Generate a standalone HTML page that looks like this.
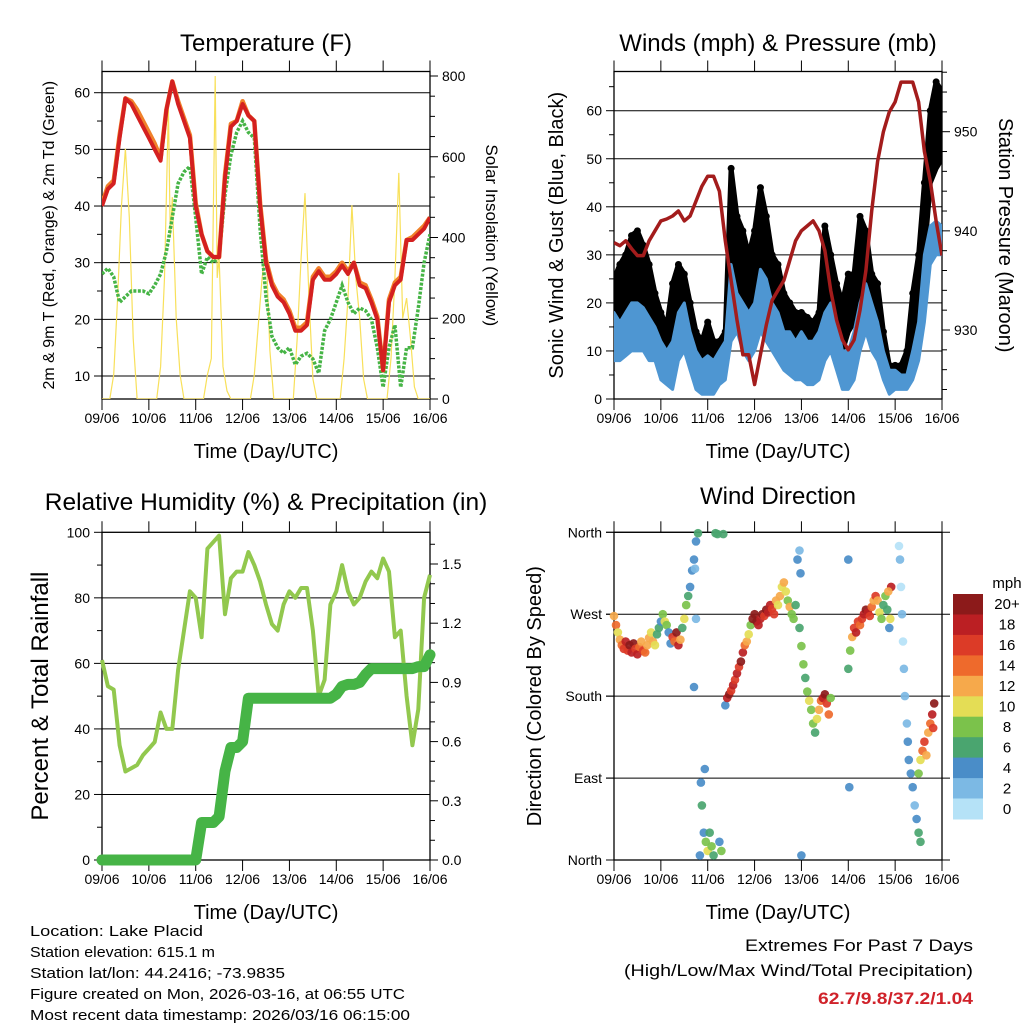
<!DOCTYPE html>
<html><head><meta charset="utf-8"><style>
html,body{margin:0;padding:0;background:#fff;}
svg{display:block;font-family:"Liberation Sans",sans-serif;}
</style></head><body>
<svg id="fig" width="1024" height="1024" viewBox="0 0 1024 1024" xmlns="http://www.w3.org/2000/svg">
<g id="g-temp"></g>
<g id="g-wind"></g>
<g id="g-rh"></g>
<g id="g-dir"></g>
<g font-size="15" fill="#000">
<text x="30" y="936" textLength="173" lengthAdjust="spacingAndGlyphs">Location: Lake Placid</text>
<text x="30" y="957" textLength="185" lengthAdjust="spacingAndGlyphs">Station elevation: 615.1 m</text>
<text x="30" y="978" textLength="255" lengthAdjust="spacingAndGlyphs">Station lat/lon: 44.2416; -73.9835</text>
<text x="30" y="999" textLength="375" lengthAdjust="spacingAndGlyphs">Figure created on Mon, 2026-03-16, at 06:55 UTC</text>
<text x="30" y="1020" textLength="380" lengthAdjust="spacingAndGlyphs">Most recent data timestamp: 2026/03/16 06:15:00</text>
</g>
<g font-size="17" text-anchor="end">
<text x="973" y="951" textLength="228" lengthAdjust="spacingAndGlyphs">Extremes For Past 7 Days</text>
<text x="973" y="976" textLength="349" lengthAdjust="spacingAndGlyphs">(High/Low/Max Wind/Total Precipitation)</text>
<text x="973" y="1004" fill="#d0222a" font-weight="bold" textLength="155" lengthAdjust="spacingAndGlyphs">62.7/9.8/37.2/1.04</text>
</g>
</svg>
<script>
// ---------- data ----------
const dayLabels = ["09/06","10/06","11/06","12/06","13/06","14/06","15/06","16/06"];
const hours3 = [0,3,6,9,12,15,18,21,24,27,30,33,36,39,42,45,48,51,54,57,60,63,66,69,72,75,78,81,84,87,90,93,96,99,102,105,108,111,114,117,120,123,126,129,132,135,138,141,144,147,150,153,156,159,162,165,168];
const temp2m = [40,43,44,52,59,58,56,54,52,50,48,57,62,58,55,52,40,35,32,31,31,45,54,55,58,56,55,40,30,26,24,23,21,18,18,19,27,28.5,27,27,28,29.5,28,30,26,25.5,23,20,11,23,26,27,34,34,35,36,38];
const temp9m = [40.5,43.5,44.5,52.5,59,58.5,57,55,53,51,48.5,57,62,58.5,55.5,52.5,40.5,35,32,31,31,45.5,54.5,55,58.5,56,55,40.5,30.5,26.5,24.5,23.5,21.5,18.5,18.5,19.5,27.5,29,27.5,27.5,28.5,30,28.5,30,26.5,26,23.5,20.5,11,23.5,26.5,27.5,34,34.5,35.5,36.5,38];
const dewpt = [28,29,27.5,23,24,25,25,25,24.5,26,28,32,38,44,46,47,38,28,31,30,31,42,49,53,55,53,52,36,24,17,15,14,15,12,13.5,14,13,10.5,18,20,23,26,23,21,22,21.5,20,15,8,15,19,8,15,15,22,30,35];
const solarHours = [0,4,6,8,10,12,14,16,18,28,30,32,34,35,36,38,40,42,52,54,56,58,59,60,62,64,66,76,78,80,82,84,86,88,98,100,102,104,106,108,110,122,124,126,128,130,132,134,136,146,148,150,152,154,156,158,160,162,168];
const solarVals = [0,0,60,250,480,620,450,150,0,0,80,300,720,400,500,200,60,0,0,60,100,800,300,350,80,20,0,0,60,180,300,380,120,0,0,150,350,510,250,50,0,0,100,250,480,300,200,50,0,0,100,300,560,200,250,150,30,0,0];
const pressure = [938.8,938.5,939,938.2,937.5,937.5,939,940,941,941.2,941.5,942,941,941.5,943,944.5,945.5,945.5,944,939,935,931,927.5,927.5,924.5,927.5,930.5,933,934,935,937,939,940,940.5,941,940,938,934,931,929,928,929,932,936,942,947,950,952,953,955,955,955,953,948,945,941,937.5];
const windLo = [8,8,9,10,10,10,8,8,4,3,2,8,10,6,2,1,1,1,3,4,12,14,10,8,10,14,12,10,8,6,5,4,4,3,3,4,8,10,6,2,2,4,10,14,10,8,4,1,2,2,2,4,8,16,28,30,30];
const windHi = [18,16,18,20,20,19,17,15,12,10,12,18,20,14,10,8,9,8,10,12,28,22,20,18,20,27,25,20,18,14,14,12,14,12,12,14,18,20,16,10,10,14,20,24,20,16,10,6,6,5,5,10,16,30,36,37,36];
const gustLo = [15,15,18,20,20,18,15,12,8,7,12,16,15,10,6,5,6,5,6,8,25,20,18,14,18,24,20,18,14,10,10,8,10,8,8,10,16,15,12,10,14,16,16,20,15,12,8,4,4,4,5,12,20,30,45,48,50];
const gustHi = [25,28,30,34,35,32,28,22,18,15,24,28,26,20,14,12,16,12,12,14,48,38,35,30,35,44,38,30,28,22,20,18,18,17,16,18,36,30,24,20,26,26,38,35,26,24,14,7,7,7,10,22,30,45,60,66,64];
const rhVals = [61,53,52,35,27,28,29,32,34,36,45,40,40,58,70,82,80,68,95,97,99,75,86,88,88,94,90,85,78,72,70,78,82,80,83,83,70,50,55,78,82,90,82,78,80,85,88,86,92,88,68,70,50,35,46,80,87];
const precipVals = [0,0,0,0,0,0,0,0,0,0,0,0,0,0,0,0,0,0.19,0.19,0.19,0.22,0.45,0.57,0.57,0.6,0.82,0.82,0.82,0.82,0.82,0.82,0.82,0.82,0.82,0.82,0.82,0.82,0.82,0.82,0.82,0.84,0.88,0.89,0.89,0.9,0.94,0.97,0.97,0.97,0.97,0.97,0.97,0.97,0.97,0.98,0.98,1.04];
const dirHours = [0,1,2,3,4,5,6,7,8,9,10,11,12,13,14,15,16,17,18,19,20,21,22,23,24,25,26,27,28,29,30,31,32,33,34,35,36,37,38,39,40,41,42,43,44,44.5,45,46,46.5,47,48,49,50,51,52,53,54,55,56,41,41.5,42,57,58,59,60,61,62,63,64,65,66,67,68,69,70,71,72,73,74,75,76,77,78,79,80,81,82,83,84,85,86,87,88,89,90,91,92,93,95,96,97,98,99,100,101,102,103,104,105,106,107,108,109,110,111,94,95,95.5,96,120,121,122,123,124,125,126,127,128,129,130,131,132,133,134,135,136,137,138,139,140,141,142,140.5,141.5,146,146.5,147,147.5,148,148.5,149,150,150.5,151,152,153,154,155,156,157,120.5,120,156,157,158,159,160,161,162,163,164,163.5];
const dirDeg = [268,258,250,242,236,232,240,230,236,228,238,232,226,234,240,230,228,236,244,250,240,236,248,255,262,270,262,258,250,238,245,240,250,236,242,255,265,280,290,300,318,330,350,359,5,85,60,30,100,20,10,30,15,5,359,358,20,10,358,190,320,265,170,178,182,186,192,198,205,212,218,228,236,240,248,258,265,270,262,258,265,270,268,275,272,280,276,270,285,280,290,300,305,295,285,278,270,265,280,255,235,215,200,185,175,165,150,140,155,165,175,178,182,172,160,178,330,340,315,5,210,230,245,255,250,262,258,265,270,275,272,268,278,285,290,285,272,265,280,290,275,255,300,295,265,345,330,300,270,240,210,180,150,130,110,95,80,60,45,30,20,80,330,95,110,120,130,115,140,150,160,172,145];
const dirSpd = [12,14,10,12,14,16,18,16,20,18,20,16,18,14,12,16,14,12,12,10,12,10,6,6,4,8,10,8,4,4,16,14,20,18,12,6,10,8,6,4,4,4,4,6,4,4,6,4,4,8,10,6,8,6,6,6,4,8,6,4,2,2,4,18,20,16,18,16,18,16,20,18,14,12,10,8,20,20,20,18,18,20,16,20,18,18,16,16,12,10,12,10,12,10,8,12,8,8,6,6,8,8,6,8,10,8,8,6,10,12,14,18,20,16,14,8,4,2,4,4,6,8,12,16,18,16,14,16,18,20,18,16,14,12,16,12,10,8,6,8,6,4,18,12,10,0,2,0,2,0,2,2,2,4,4,4,4,2,4,6,6,4,4,8,10,14,16,12,12,14,18,20,16];
const speedBinLabels = ["0","2","4","6","8","10","12","14","16","18","20+"];
const binColors = ["#b5e2f7","#7cb9e4","#4a8dc8","#4aa56f","#7bc24b","#e4dd55","#f6a94b","#ee6a2c","#dc3b27","#bb1f23","#8c1a1a"];

// ---------- helpers ----------
const NS="http://www.w3.org/2000/svg";
function el(parent,tag,attrs,text){const e=document.createElementNS(NS,tag);for(const k in attrs)e.setAttribute(k,attrs[k]);if(text!==undefined)e.textContent=text;parent.appendChild(e);return e;}
const X0=102,X1=430;
function xs(off){return h=>off+X0+(h/168)*(X1-X0);}
function lin(d0,d1,r0,r1){return v=>r0+(v-d0)/(d1-d0)*(r1-r0);}
function pathFrom(xArr,yArr,fx,fy){return xArr.map((h,i)=>(i?"L":"M")+fx(h).toFixed(1)+","+fy(yArr[i]).toFixed(1)).join("");}

function frame(g,off,top,bot,opts){
  const L=off+X0,R=off+X1;
  opts.grid.forEach(v=>{const y=opts.fy(v);
    const gl=el(g,"line",{x1:opts.gridL||L,x2:opts.gridR||R,y1:y,y2:y,stroke:"#000","stroke-width":1});
    });
  const fr=el(g,"rect",{x:L,y:top,width:R-L,height:bot-top,fill:"none",stroke:"#000","stroke-width":1.3});
  
  const fx=xs(off);
  for(let d=0;d<8;d++){const x=fx(d*24);
    el(g,"line",{x1:x,x2:x,y1:top-11,y2:top,stroke:"#000","stroke-width":1});
    el(g,"line",{x1:x,x2:x,y1:bot,y2:bot+11,stroke:"#000","stroke-width":1});
    const t=el(g,"text",{x:x,y:bot+24,"font-size":14,"text-anchor":"middle"},dayLabels[d]);
    }
  const xt=el(g,"text",{x:off+266,y:bot+59,"font-size":20,"text-anchor":"middle"},"Time (Day/UTC)");
  
  opts.lt.forEach(([v,lab])=>{const y=opts.fy(v);
    el(g,"line",{x1:L-8,x2:L,y1:y,y2:y,stroke:"#000"});
    if(lab!==null){const t=el(g,"text",{x:L-12,y:y+5,"font-size":14,"text-anchor":"end"},lab);
    }});
  (opts.lminor||[]).forEach(v=>{const y=opts.fy(v);el(g,"line",{x1:L-5,x2:L,y1:y,y2:y,stroke:"#000"});});
  (opts.rt||[]).forEach(([v,lab])=>{const y=opts.fy2(v);
    el(g,"line",{x1:R,x2:R+8,y1:y,y2:y,stroke:"#000"});
    const t=el(g,"text",{x:R+12,y:y+5,"font-size":14},lab);
    });
  (opts.rminor||[]).forEach(v=>{const y=opts.fy2(v);el(g,"line",{x1:R,x2:R+5,y1:y,y2:y,stroke:"#000"});});
  const ti=el(g,"text",{x:off+opts.titleX,y:opts.titleY,"font-size":opts.titleFs||24,"text-anchor":"middle"},opts.title);
  
  const yl=el(g,"text",{transform:`translate(${opts.ylx},${(top+bot)/2}) rotate(-90)`,"font-size":opts.ylfs,"text-anchor":"middle"},opts.yl);
  
  if(opts.yr){const yr=el(g,"text",{transform:`translate(${opts.yrx},${(top+bot)/2}) rotate(90)`,"font-size":opts.yrfs,"text-anchor":"middle"},opts.yr);
  }
}

// ---------- Temperature panel ----------
(function(){
  const g=document.getElementById("g-temp"),top=71.5,bot=399,fx=xs(0);
  const fy=lin(10,60,376,92.7), fs=lin(0,800,399,76);
  const clip=el(g,"clipPath",{id:"c1"});el(clip,"rect",{x:X0,y:top,width:X1-X0,height:bot-top});
  frame(g,0,top,bot,{fy:fy,fy2:fs,grid:[10,20,30,40,50,60],lt:[[10,"10"],[20,"20"],[30,"30"],[40,"40"],[50,"50"],[60,"60"]],
    lminor:[15,25,35,45,55],rt:[[0,"0"],[200,"200"],[400,"400"],[600,"600"],[800,"800"]],rminor:[50,100,150,250,300,350,450,500,550,650,700,750],
    title:"Temperature (F)",titleX:266,titleY:51,yl:"2m & 9m T (Red, Orange) & 2m Td (Green)",ylx:54,ylfs:16,yr:"Solar Insolation (Yellow)",yrx:486,yrfs:17});
  const d=el(g,"g",{"clip-path":"url(#c1)"});
  const s=el(d,"path",{d:pathFrom(solarHours,solarVals,fx,fs),fill:"none",stroke:"#f8e05a","stroke-width":1.2});
  
  const dp=el(d,"path",{d:pathFrom(hours3,dewpt,fx,fy),fill:"none",stroke:"#46b446","stroke-width":3.5,"stroke-dasharray":"3 1.5"});
  
  const o=el(d,"path",{d:pathFrom(hours3,temp9m,fx,fy),fill:"none",stroke:"#f0812a","stroke-width":4.5,"stroke-linejoin":"round"});
  
  const r=el(d,"path",{d:pathFrom(hours3,temp2m,fx,fy),fill:"none",stroke:"#d42020","stroke-width":4,"stroke-linejoin":"round"});
  
})();

// ---------- Wind panel ----------
(function(){
  const g=document.getElementById("g-wind"),off=512,top=71.5,bot=399,fx=xs(off);
  const fy=lin(0,60,399,110.7), fp=lin(930,950,330,131.7);
  const clip=el(g,"clipPath",{id:"c2"});el(clip,"rect",{x:off+X0,y:top,width:X1-X0,height:bot-top});
  frame(g,off,top,bot,{fy:fy,fy2:fp,grid:[10,20,30,40,50,60],lt:[[0,"0"],[10,"10"],[20,"20"],[30,"30"],[40,"40"],[50,"50"],[60,"60"]],
    lminor:[5,15,25,35,45,55,65],rt:[[930,"930"],[940,"940"],[950,"950"]],rminor:[924,926,928,932,934,936,938,942,944,946,948,952,954,956],
    title:"Winds (mph) & Pressure (mb)",titleX:266,titleY:51,yl:"Sonic Wind & Gust (Blue, Black)",ylx:563,ylfs:20,yr:"Station Pressure (Maroon)",yrx:999,yrfs:20});
  const d=el(g,"g",{"clip-path":"url(#c2)"});
  const gb=hours3.map((h,i)=>fx(h).toFixed(1)+","+fy(gustHi[i]).toFixed(1)).concat(hours3.slice().reverse().map((h,j)=>{const i=hours3.length-1-j;return fx(h).toFixed(1)+","+fy(gustLo[i]).toFixed(1);}));
  const gp=el(d,"polygon",{points:gb.join(" "),fill:"#000",stroke:"#000","stroke-width":5,"stroke-linejoin":"round"});
  
  hours3.forEach((h,i)=>{const c=el(d,"circle",{cx:fx(h),cy:fy(gustHi[i]),r:3.5,fill:"#000"});
    });
  const wb=hours3.map((h,i)=>fx(h).toFixed(1)+","+fy(windHi[i]).toFixed(1)).concat(hours3.slice().reverse().map((h,j)=>{const i=hours3.length-1-j;return fx(h).toFixed(1)+","+fy(windLo[i]).toFixed(1);}));
  const wp=el(d,"polygon",{points:wb.join(" "),fill:"#4e96d2",stroke:"#4e96d2","stroke-width":3,"stroke-linejoin":"round"});
  
  const p=el(d,"path",{d:pathFrom(hours3,pressure,fx,fp),fill:"none",stroke:"#a31c1c","stroke-width":3.5,"stroke-linejoin":"round"});
  
})();

// ---------- RH panel ----------
(function(){
  const g=document.getElementById("g-rh"),top=532.3,bot=860,fx=xs(0);
  const fy=lin(0,100,860,532.3), fp=lin(0,1.5,860,564);
  frame(g,0,top,bot,{fy:fy,fy2:fp,grid:[20,40,60,80],lt:[[0,"0"],[20,"20"],[40,"40"],[60,"60"],[80,"80"],[100,"100"]],
    lminor:[10,30,50,70,90],rt:[[0,"0.0"],[0.3,"0.3"],[0.6,"0.6"],[0.9,"0.9"],[1.2,"1.2"],[1.5,"1.5"]],rminor:[0.1,0.2,0.4,0.5,0.7,0.8,1.0,1.1,1.3,1.4,1.6],
    title:"Relative Humidity (%) & Precipitation (in)",titleFs:24.5,titleX:266,titleY:510,yl:"Percent & Total Rainfall",ylx:48,ylfs:24});
  const r=el(g,"path",{d:pathFrom(hours3,rhVals,fx,fy),fill:"none",stroke:"#92c84e","stroke-width":4,"stroke-linejoin":"round"});
  
  const p=el(g,"path",{d:pathFrom(hours3,precipVals,fx,fp),fill:"none",stroke:"#46b446","stroke-width":11,"stroke-linejoin":"round","stroke-linecap":"round"});
  
})();

// ---------- Direction panel ----------
(function(){
  const g=document.getElementById("g-dir"),off=512,top=532.3,bot=860,fx=xs(off);
  const fy=lin(0,360,860,532.3);
  frame(g,off,top,bot,{fy:fy,grid:[0,90,180,270,360],gridL:606,gridR:950,lt:[[0,"North"],[90,"East"],[180,"South"],[270,"West"],[360,"North"]],
    title:"Wind Direction",titleX:266,titleY:504,yl:"Direction (Colored By Speed)",ylx:541,ylfs:20});
  dirHours.forEach((h,i)=>{const b=Math.min(10,Math.floor((dirSpd[i]+1)/2));
    const c=el(g,"circle",{cx:fx(h).toFixed(1),cy:fy(dirDeg[i]).toFixed(1),r:4.3,fill:binColors[b],"fill-opacity":0.92});
    });
  const cbTop=594,cbH=225/11;
  speedBinLabels.forEach((lab,k)=>{const idx=10-k,y=cbTop+k*cbH;
    const r=el(g,"rect",{x:953,y:y.toFixed(1),width:30,height:(cbH+0.5).toFixed(1),fill:binColors[idx]});
    
    const t=el(g,"text",{x:1007,y:(y+cbH/2+5).toFixed(1),"font-size":15,"text-anchor":"middle"},speedBinLabels[idx]);
    });
  const u=el(g,"text",{x:1007,y:588,"font-size":15,"text-anchor":"middle"},"mph");
  
})();
</script>
</body></html>
